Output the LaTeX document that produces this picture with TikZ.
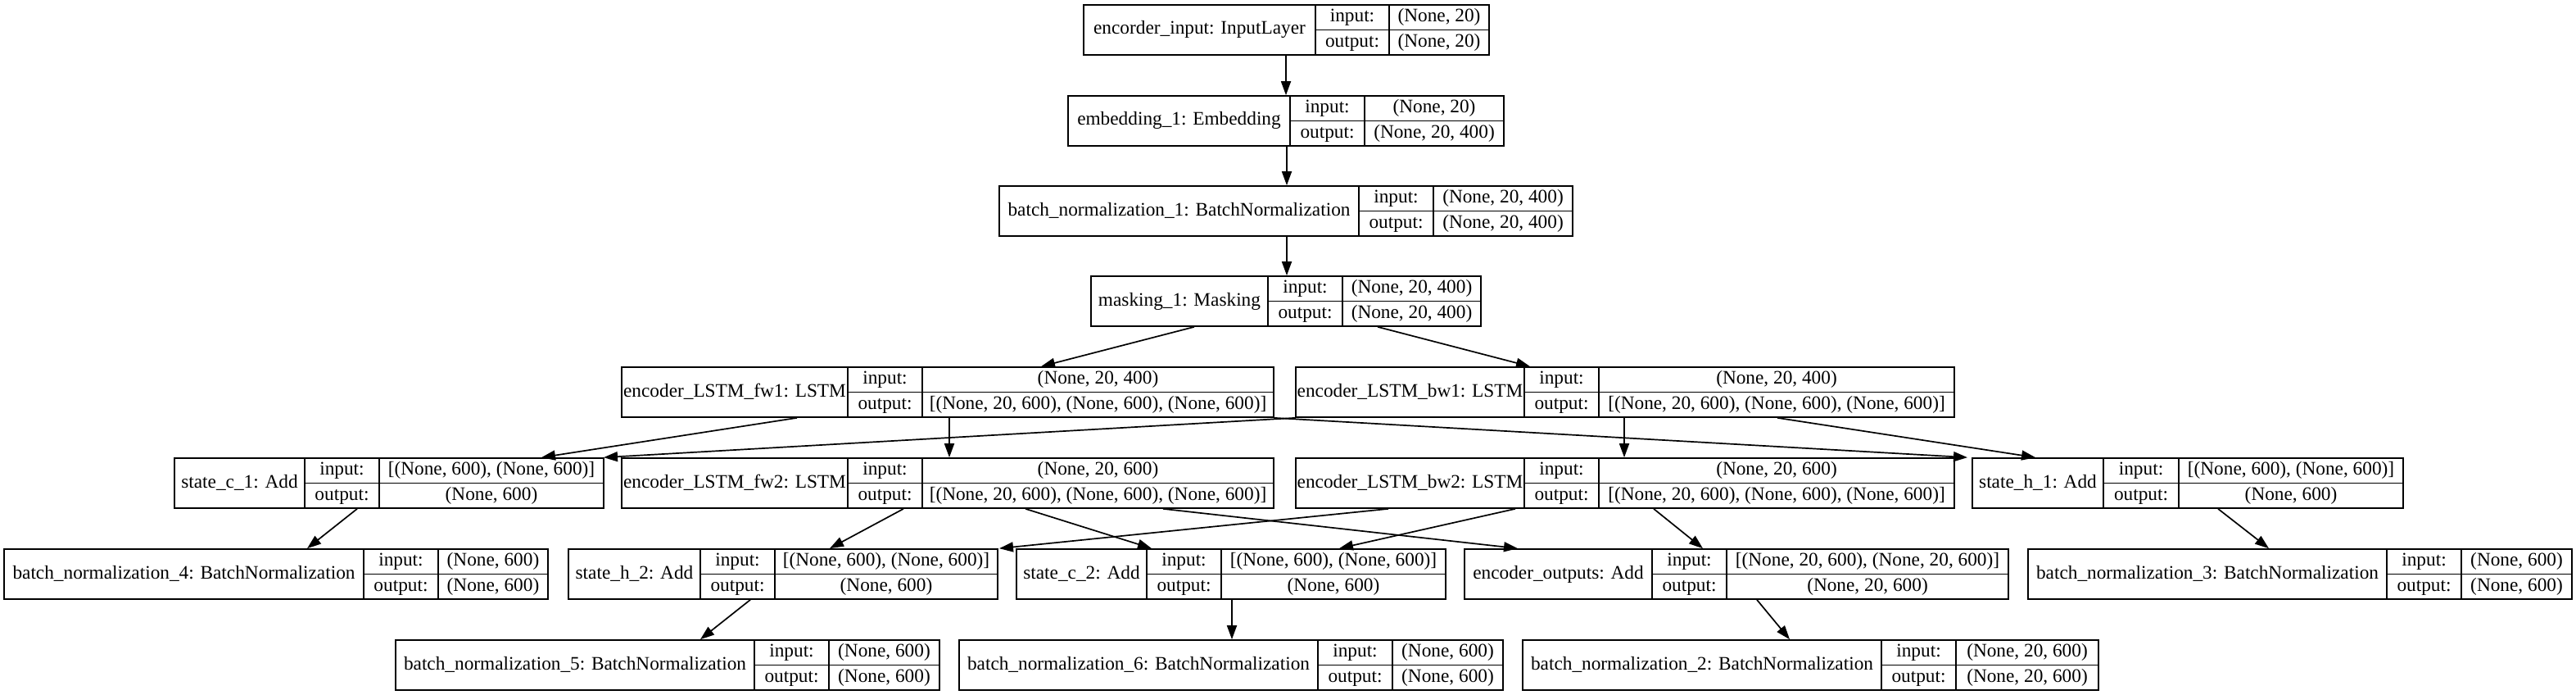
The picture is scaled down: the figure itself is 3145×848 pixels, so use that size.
\documentclass[tikz,border=0pt]{standalone}
\usepackage{fontspec}
\setmainfont{Liberation Serif}
\usetikzlibrary{arrows.meta}
\tikzset{
  recbox/.style={draw, line width=1.7pt, inner sep=0pt, rectangle},
  recline/.style={line width=1.7pt},
  txt/.style={inner sep=0pt, font=\fontsize{23.3}{28}\selectfont, text height=16pt, text depth=5pt},
  edge/.style={line width=1.7pt, -{Triangle[length=17pt,width=12pt]}},
}
% name, L, R, T, div1, div2, label, input, output
\newcommand\layerrec[9]{%
  \node[recbox, minimum width={(#3-#2)*1pt}, minimum height=61pt] (#1) at ({(#2+#3)/2},{#4+30.5}) {};
  \draw[recline] ({#5},{#4}) -- ({#5},{#4+61}) ({#6},{#4}) -- ({#6},{#4+61}) ({#5},{#4+30.5}) -- ({#3},{#4+30.5});
  \node[txt] (#1-l) at ({(#2+#5)/2},{#4+30.5}) {#7};
  \node[txt] (#1-i) at ({(#5+#6)/2},{#4+15.25}) {input:};
  \node[txt] (#1-in) at ({(#6+#3)/2},{#4+15.25}) {#8};
  \node[txt] (#1-o) at ({(#5+#6)/2},{#4+45.75}) {output:};
  \node[txt] (#1-out) at ({(#6+#3)/2},{#4+45.75}) {#9};
}
\begin{document}
\begin{tikzpicture}[x=1pt,y=-1pt]
\fill[white] (0,0) rectangle (3145,848);
\useasboundingbox (0,0) rectangle (3145,848);

\layerrec{inp}{1323}{1818}{6}{1606}{1696}{encorder\_input: InputLayer}{(None, 20)}{(None, 20)}
\layerrec{emb}{1304}{1836}{117}{1575}{1666}{embedding\_1: Embedding}{(None, 20)}{(None, 20, 400)}
\layerrec{bnA}{1220}{1920}{227}{1659}{1750}{batch\_normalization\_1: BatchNormalization}{(None, 20, 400)}{(None, 20, 400)}
\layerrec{mask}{1332}{1808}{337}{1548}{1639}{masking\_1: Masking}{(None, 20, 400)}{(None, 20, 400)}
\layerrec{fwA}{759}{1555}{448}{1035}{1126}{encoder\_LSTM\_fw1: LSTM}{(None, 20, 400)}{[(None, 20, 600), (None, 600), (None, 600)]}
\layerrec{bwA}{1582}{2386}{448}{1861}{1952}{encoder\_LSTM\_bw1: LSTM}{(None, 20, 400)}{[(None, 20, 600), (None, 600), (None, 600)]}
\layerrec{scA}{213}{737}{559}{372}{463}{state\_c\_1: Add}{[(None, 600), (None, 600)]}{(None, 600)}
\layerrec{fwB}{759}{1555}{559}{1035}{1126}{encoder\_LSTM\_fw2: LSTM}{(None, 20, 600)}{[(None, 20, 600), (None, 600), (None, 600)]}
\layerrec{bwB}{1582}{2386}{559}{1861}{1952}{encoder\_LSTM\_bw2: LSTM}{(None, 20, 600)}{[(None, 20, 600), (None, 600), (None, 600)]}
\layerrec{shA}{2408}{2934}{559}{2568}{2660}{state\_h\_1: Add}{[(None, 600), (None, 600)]}{(None, 600)}
\layerrec{bnD}{5}{669}{670}{444}{535}{batch\_normalization\_4: BatchNormalization}{(None, 600)}{(None, 600)}
\layerrec{shB}{694}{1218}{670}{855}{946}{state\_h\_2: Add}{[(None, 600), (None, 600)]}{(None, 600)}
\layerrec{scB}{1241}{1765}{670}{1400}{1491}{state\_c\_2: Add}{[(None, 600), (None, 600)]}{(None, 600)}
\layerrec{eo}{1788}{2452}{670}{2017}{2108}{encoder\_outputs: Add}{[(None, 20, 600), (None, 20, 600)]}{(None, 20, 600)}
\layerrec{bnC}{2476}{3140}{670}{2914}{3005}{batch\_normalization\_3: BatchNormalization}{(None, 600)}{(None, 600)}
\layerrec{bnE}{483}{1147}{781}{921}{1012}{batch\_normalization\_5: BatchNormalization}{(None, 600)}{(None, 600)}
\layerrec{bnF}{1171}{1835}{781}{1609}{1700}{batch\_normalization\_6: BatchNormalization}{(None, 600)}{(None, 600)}
\layerrec{bnB}{1859}{2562}{781}{2297}{2388}{batch\_normalization\_2: BatchNormalization}{(None, 20, 600)}{(None, 20, 600)}

\draw[edge] (inp.south -| 1570,0) -- (emb.north -| 1570,0);
\draw[edge] (emb.south -| 1571,0) -- (bnA.north -| 1571,0);
\draw[edge] (bnA.south -| 1571,0) -- (mask.north -| 1571,0);
\draw[edge] (mask.south -| 1458,0) -- (fwA.north -| 1271,0);
\draw[edge] (mask.south -| 1682,0) -- (bwA.north -| 1868,0);
\draw[edge] (fwA.south -| 973,0) -- (scA.north -| 661,0);
\draw[edge] (fwA.south -| 1159,0) -- (fwB.north -| 1159,0);
\draw[edge] (fwA.south -| 1555,0) -- (shA.north -| 2402,0);
\draw[edge] (bwA.south -| 1582,0) -- (scA.north -| 737,0);
\draw[edge] (bwA.south -| 1983,0) -- (bwB.north -| 1983,0);
\draw[edge] (bwA.south -| 2170,0) -- (shA.north -| 2485,0);
\draw[edge] (scA.south -| 436,0) -- (bnD.north -| 375,0);
\draw[edge] (shA.south -| 2708,0) -- (bnC.north -| 2770,0);
\draw[edge] (fwB.south -| 1103,0) -- (shB.north -| 1013,0);
\draw[edge] (fwB.south -| 1252,0) -- (scB.north -| 1406,0);
\draw[edge] (fwB.south -| 1420,0) -- (eo.north -| 1853,0);
\draw[edge] (bwB.south -| 1695,0) -- (shB.north -| 1220,0);
\draw[edge] (bwB.south -| 1850,0) -- (scB.north -| 1635,0);
\draw[edge] (bwB.south -| 2019,0) -- (eo.north -| 2079,0);
\draw[edge] (shB.south -| 916,0) -- (bnE.north -| 855,0);
\draw[edge] (scB.south -| 1504,0) -- (bnF.north -| 1504,0);
\draw[edge] (eo.south -| 2145,0) -- (bnB.north -| 2185,0);
\end{tikzpicture}
\end{document}
